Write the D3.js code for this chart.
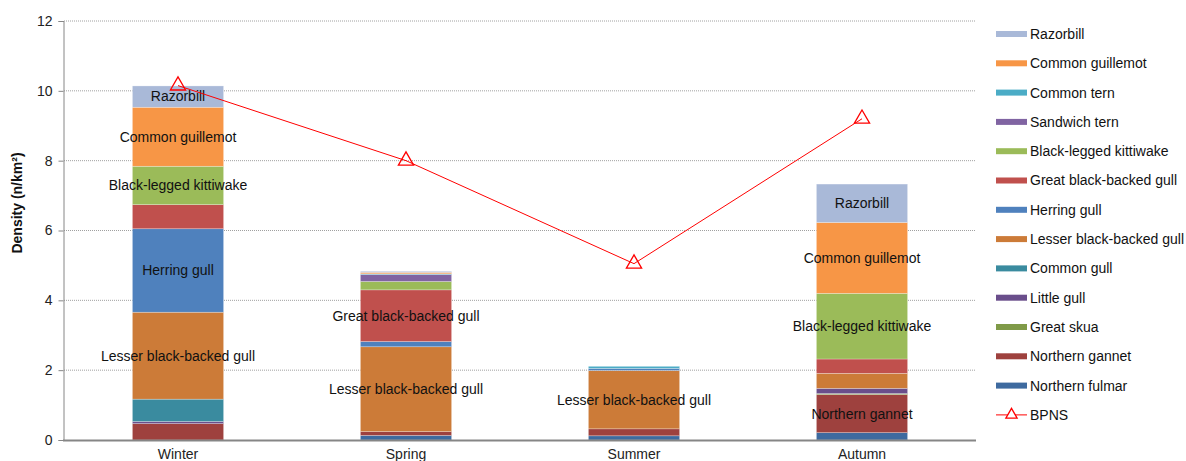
<!DOCTYPE html>
<html><head><meta charset="utf-8">
<script src="https://cdn.jsdelivr.net/npm/d3@7"></script>
<style>body{margin:0;background:#fff}svg{display:block;font-family:"Liberation Sans",Arial,sans-serif}</style>
</head><body><svg id="c" width="1186" height="461"></svg>
<script>
const seasons = ["Winter","Spring","Summer","Autumn"];
// stacking order, bottom to top
const species = ["Northern fulmar","Northern gannet","Great skua","Little gull","Common gull","Lesser black-backed gull","Herring gull","Great black-backed gull","Black-legged kittiwake","Sandwich tern","Common tern","Common guillemot","Razorbill"];
const northernFulmar   = [0.00,0.13,0.12,0.21];
const northernGannet   = [0.47,0.11,0.20,1.09];
const greatSkua        = [0.00,0.00,0.00,0.03];
const littleGull       = [0.06,0.00,0.00,0.15];
const commonGull       = [0.64,0.00,0.00,0.00];
const lesserBBGull     = [2.49,2.43,1.67,0.43];
const herringGull      = [2.39,0.15,0.06,0.00];
const greatBBGull      = [0.69,1.48,0.00,0.41];
const kittiwake        = [1.10,0.24,0.00,1.88];
const sandwichTern     = [0.00,0.20,0.00,0.00];
const commonTern       = [0.00,0.02,0.06,0.00];
const commonGuillemot  = [1.69,0.04,0.00,2.03];
const razorbill        = [0.61,0.03,0.00,1.10];
const bpns             = [10.15,8.0,5.05,9.2];
const yTicks = [0,2,4,6,8,10,12];
const legendOrder = ["Razorbill","Common guillemot","Common tern","Sandwich tern","Black-legged kittiwake","Great black-backed gull","Herring gull","Lesser black-backed gull","Common gull","Little gull","Great skua","Northern gannet","Northern fulmar"];
const colors = ["#3E6A9F","#9E413E","#7F9A48","#6A4E8B","#3A8B9F","#CC7B38","#4F81BD","#C0504D","#9BBB59","#8064A2","#4BACC6","#F79646","#A9B9D8"];
// labelled segments: [season, species]
const labels = [
 ["Winter","Razorbill"],["Winter","Common guillemot"],["Winter","Black-legged kittiwake"],["Winter","Herring gull"],["Winter","Lesser black-backed gull"],
 ["Spring","Great black-backed gull"],["Spring","Lesser black-backed gull"],
 ["Summer","Lesser black-backed gull"],
 ["Autumn","Razorbill"],["Autumn","Common guillemot"],["Autumn","Black-legged kittiwake"],["Autumn","Northern gannet"]
];

const seriesVals = [northernFulmar,northernGannet,greatSkua,littleGull,commonGull,lesserBBGull,herringGull,greatBBGull,kittiwake,sandwichTern,commonTern,commonGuillemot,razorbill];
const rows = seasons.map((s,i)=>{const r={season:s};species.forEach((sp,j)=>r[sp]=seriesVals[j][i]);return r;});
const color = d3.scaleOrdinal().domain(species).range(colors);
const FS = 14;

const svg = d3.select("#c");
const x = d3.scaleBand().domain(seasons).range([64,976]).paddingInner(0.6).paddingOuter(0.3);
const y = d3.scaleLinear().domain([0,12]).range([440,21]);

// gridlines
svg.append("g").selectAll("line").data(yTicks.filter(d=>d>0)).join("line")
  .attr("x1",64).attr("x2",976).attr("y1",d=>y(d)).attr("y2",d=>y(d))
  .attr("stroke","#a0a0a0").attr("stroke-width",1).attr("stroke-dasharray","1,1");

// y axis
const ya = svg.append("g").attr("transform","translate(63.5,0)").call(d3.axisLeft(y).tickValues(yTicks).tickSize(5).tickPadding(6));
ya.select(".domain").attr("stroke","#868686");
ya.selectAll(".tick line").attr("stroke","#868686");
ya.selectAll("text").attr("font-size",FS).attr("fill","#222").attr("font-family","Liberation Sans, Arial, sans-serif");

// bars
const stack = d3.stack().keys(species)(rows);
svg.append("g").selectAll("g").data(stack).join("g").attr("fill",d=>color(d.key))
  .selectAll("rect").data(d=>d.map(v=>({v,key:d.key}))).join("rect")
  .attr("x",d=>x(d.v.data.season)).attr("width",x.bandwidth())
  .attr("y",d=>y(d.v[1])).attr("height",d=>Math.max(0,y(d.v[0])-y(d.v[1])))
  .attr("stroke","#ffffff").attr("stroke-opacity",0.45).attr("stroke-width",0.6);

// x axis
svg.append("line").attr("x1",63).attr("x2",976).attr("y1",440.5).attr("y2",440.5).attr("stroke","#868686").attr("stroke-width",2);
svg.append("g").selectAll("text").data(seasons).join("text")
  .attr("x",d=>x(d)+x.bandwidth()/2).attr("y",459).attr("text-anchor","middle")
  .attr("font-size",FS).attr("fill","#222").text(d=>d);

// segment labels
svg.append("g").selectAll("text").data(labels).join("text")
  .attr("x",d=>x(d[0])+x.bandwidth()/2)
  .attr("y",d=>{const s=stack[species.indexOf(d[1])][seasons.indexOf(d[0])];return (y(s[0])+y(s[1]))/2;})
  .attr("dy","0.35em").attr("text-anchor","middle").attr("font-size",FS).attr("fill","#111").text(d=>d[1]);

// BPNS line
const cx = d=>x(d)+x.bandwidth()/2;
svg.append("path").datum(bpns).attr("fill","none").attr("stroke","#FF0000").attr("stroke-width",1)
  .attr("d",d3.line().x((d,i)=>cx(seasons[i])).y(d=>y(d)));
const tri = d3.symbol().type(d3.symbolTriangle).size(100);
svg.append("g").selectAll("path").data(bpns).join("path")
  .attr("transform",(d,i)=>`translate(${cx(seasons[i])},${y(d)})`)
  .attr("d",tri).attr("fill","none").attr("stroke","#FF0000").attr("stroke-width",1.3);

// y title
svg.append("text").attr("transform","translate(22,203) rotate(-90)").attr("text-anchor","middle")
  .attr("font-size",FS).attr("font-weight","bold").attr("fill","#111").text("Density (n/km²)");

// legend
const lg = svg.append("g");
const ly = i=>34+i*29.3;
lg.selectAll("rect").data(legendOrder).join("rect")
  .attr("x",996).attr("width",31).attr("y",(d,i)=>ly(i)-3).attr("height",6).attr("fill",d=>color(d));
lg.selectAll("text.l").data(legendOrder.concat(["BPNS"])).join("text").attr("class","l")
  .attr("x",1030).attr("y",(d,i)=>ly(i)).attr("dy","0.35em").attr("font-size",FS).attr("fill","#111").text(d=>d);
const by = ly(legendOrder.length);
lg.append("line").attr("x1",996).attr("x2",1027).attr("y1",by).attr("y2",by).attr("stroke","#FF0000");
lg.append("path").attr("transform",`translate(1011.5,${by})`).attr("d",d3.symbol().type(d3.symbolTriangle).size(55)).attr("fill","#fff").attr("stroke","#FF0000").attr("stroke-width",1.3);
</script></body></html>
